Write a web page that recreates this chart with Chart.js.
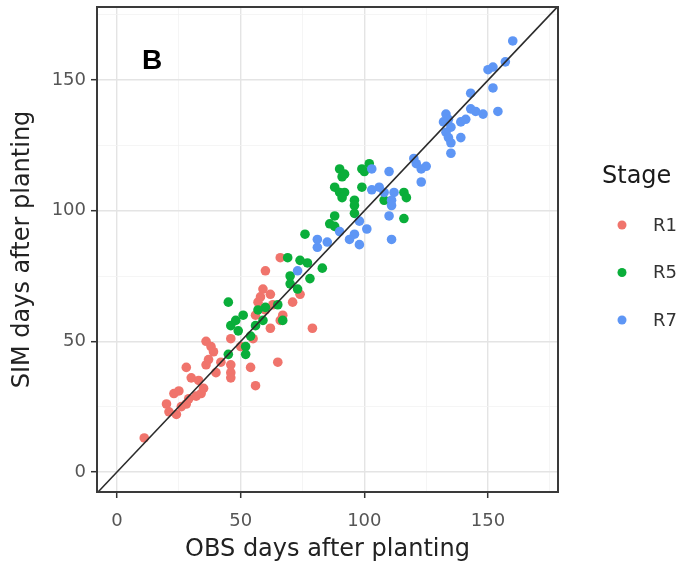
<!DOCTYPE html>
<html>
<head>
<meta charset="utf-8">
<script src="https://cdn.jsdelivr.net/npm/chart.js@4"></script>
<style>
  html, body { margin: 0; padding: 0; background: #fff; }
  #wrap { width: 697px; height: 573px; }
</style>
</head>
<body>
<div id="wrap"><canvas id="stagechart" width="697" height="573"></canvas></div>
<script>
// OBS vs SIM days after planting, by stage
const stageNames = ["R1", "R5", "R7"];

const r1Points = [
  [11, 13], [20, 26], [21, 23], [24, 22], [23, 30], [25, 31], [28, 26], [29, 28],
  [32, 29], [34, 30], [35, 32], [28, 40], [30, 36], [36, 41], [37, 43], [36, 50],
  [38, 48], [39, 46], [42, 42], [46, 41], [46, 38], [46, 36], [54, 40], [56, 33],
  [65, 42], [46, 51], [55, 51], [57, 65], [59, 70], [62, 68], [60, 62], [62, 55],
  [67, 60], [71, 65], [74, 68], [60, 77], [66, 82], [79, 55], [40, 38], [26, 25],
  [33, 35], [50, 48], [63, 64], [56, 60], [58, 67], [66, 58],
];

const r5Points = [
  [45, 65], [46, 56], [49, 54], [51, 60], [48, 58], [52, 48], [52, 45], [45, 45],
  [56, 56], [59, 58], [60, 63], [65, 64], [67, 58], [70, 75], [70, 72], [69, 82],
  [74, 81], [77, 80], [78, 74], [83, 78], [76, 91], [90, 116], [91, 113], [92, 114],
  [99, 116], [102, 118], [100, 115], [88, 109], [90, 107], [92, 107], [91, 105],
  [99, 109], [96, 104], [96, 102], [96, 99], [88, 98], [88, 94], [86, 95], [116, 107],
  [117, 105], [116, 97], [108, 104], [54, 52], [57, 62], [73, 70],
];

const r7Points = [
  [73, 77], [81, 86], [160, 165], [150, 154], [152, 155], [157, 157], [152, 147],
  [143, 145], [143, 139], [145, 138], [148, 137], [154, 138], [133, 137], [134, 135],
  [132, 134], [135, 132], [139, 134], [141, 135], [133, 130], [134, 128], [135, 126],
  [135, 122], [139, 128], [120, 120], [121, 118], [123, 116], [125, 117], [123, 111],
  [110, 115], [103, 116], [106, 109], [108, 107], [112, 107], [111, 104], [111, 102],
  [110, 98], [103, 108], [101, 93], [98, 96], [96, 91], [94, 89], [98, 87], [111, 89],
  [81, 89], [85, 88], [90, 92],
];

const identityLine = [[-20, -20], [200, 200]];
const majorTicks = [0, 50, 100, 150];
const allTicks = [0, 25, 50, 75, 100, 125, 150, 175];

const stageColors = ["#F0746C", "#0AAE3A", "#5E96F5"];
const fontFamily = "'DejaVu Sans', sans-serif";

function toXY(list) {
  return list.map(p => ({ x: p[0], y: p[1] }));
}

function isMajor(v) {
  return majorTicks.includes(v);
}

function setTicks(scale) {
  scale.ticks = allTicks.map(v => ({ value: v }));
}

const panelBox = {
  id: "panelBox",
  afterDraw: (chart) => {
    const ctx = chart.ctx;
    const a = chart.chartArea;
    ctx.save();
    ctx.strokeStyle = "#3a3a3a";
    ctx.lineWidth = 2;
    ctx.strokeRect(a.left, a.top, a.right - a.left, a.bottom - a.top);
    // panel tag
    ctx.fillStyle = "#000";
    ctx.font = "bold 28px 'Liberation Sans', Arial, sans-serif";
    ctx.textAlign = "center";
    ctx.textBaseline = "middle";
    ctx.fillText("B", chart.scales.x.getPixelForValue(14.2), chart.scales.y.getPixelForValue(157.3));
    ctx.restore();
  },
};

const stageLegend = {
  id: "stageLegend",
  afterDraw: (chart) => {
    const ctx = chart.ctx;
    const left = chart.chartArea.right + 44;
    ctx.save();
    ctx.textAlign = "left";
    ctx.textBaseline = "middle";
    ctx.fillStyle = "#1a1a1a";
    ctx.font = "24px " + fontFamily;
    ctx.fillText("Stage", left, 177);
    ctx.font = "18px " + fontFamily;
    stageNames.forEach((name, i) => {
      const y = 225 + i * 47.5;
      ctx.beginPath();
      ctx.arc(left + 20, y, 4.5, 0, Math.PI * 2);
      ctx.fillStyle = stageColors[i];
      ctx.fill();
      ctx.fillStyle = "#333";
      ctx.fillText(name, left + 51, y + 1);
    });
    ctx.restore();
  },
};

const pointSets = [r1Points, r5Points, r7Points];

const datasets = pointSets.map((pts, i) => ({
  type: "scatter",
  label: stageNames[i],
  data: toXY(pts),
  backgroundColor: stageColors[i],
  borderWidth: 0,
  pointRadius: 4.8,
  order: 3 - i,
}));

datasets.push({
  type: "line",
  label: "1:1",
  data: toXY(identityLine),
  borderColor: "#2b2b2b",
  borderWidth: 1.6,
  pointRadius: 0,
  fill: false,
  order: 0,
});

const axisTicks = {
  color: "#555",
  font: { family: fontFamily, size: 18 },
  autoSkip: false,
  maxRotation: 0,
  callback: (v) => (isMajor(v) ? String(v) : ""),
};

const axisGrid = {
  color: (c) => (c.tick && isMajor(c.tick.value) ? "#e4e4e4" : "#f2f2f2"),
  lineWidth: (c) => (c.tick && isMajor(c.tick.value) ? 1.4 : 0.8),
  tickColor: (c) => (c.tick && isMajor(c.tick.value) ? "#333" : "rgba(0,0,0,0)"),
  tickWidth: 1.5,
  tickLength: 6,
  drawTicks: true,
};

const config = {
  data: { datasets: datasets },
  options: {
    responsive: false,
    animation: false,
    layout: { padding: { top: 7, right: 139, left: 0, bottom: 0 } },
    plugins: {
      legend: { display: false },
      tooltip: { enabled: false },
    },
    scales: {
      x: {
        type: "linear",
        min: -8.1,
        max: 178.3,
        afterBuildTicks: setTicks,
        afterFit: (s) => { s.height = 81; s.paddingLeft = 0; s.paddingRight = 0; },
        border: { display: false },
        grid: axisGrid,
        ticks: Object.assign({ padding: 13 }, axisTicks),
        title: {
          display: true,
          text: "OBS days after planting",
          color: "#222",
          font: { family: fontFamily, size: 24 },
          padding: { top: 0, bottom: 9 },
        },
      },
      y: {
        type: "linear",
        min: -7.7,
        max: 178,
        afterBuildTicks: setTicks,
        afterFit: (s) => { s.width = 97; s.paddingTop = 0; s.paddingBottom = 0; },
        border: { display: false },
        grid: axisGrid,
        ticks: Object.assign({ padding: 5 }, axisTicks),
        title: {
          display: true,
          text: "SIM days after planting",
          color: "#222",
          font: { family: fontFamily, size: 24 },
          padding: { top: 8, bottom: 0 },
        },
      },
    },
  },
  plugins: [panelBox, stageLegend],
};

new Chart(document.getElementById("stagechart"), config);
</script>
</body>
</html>
